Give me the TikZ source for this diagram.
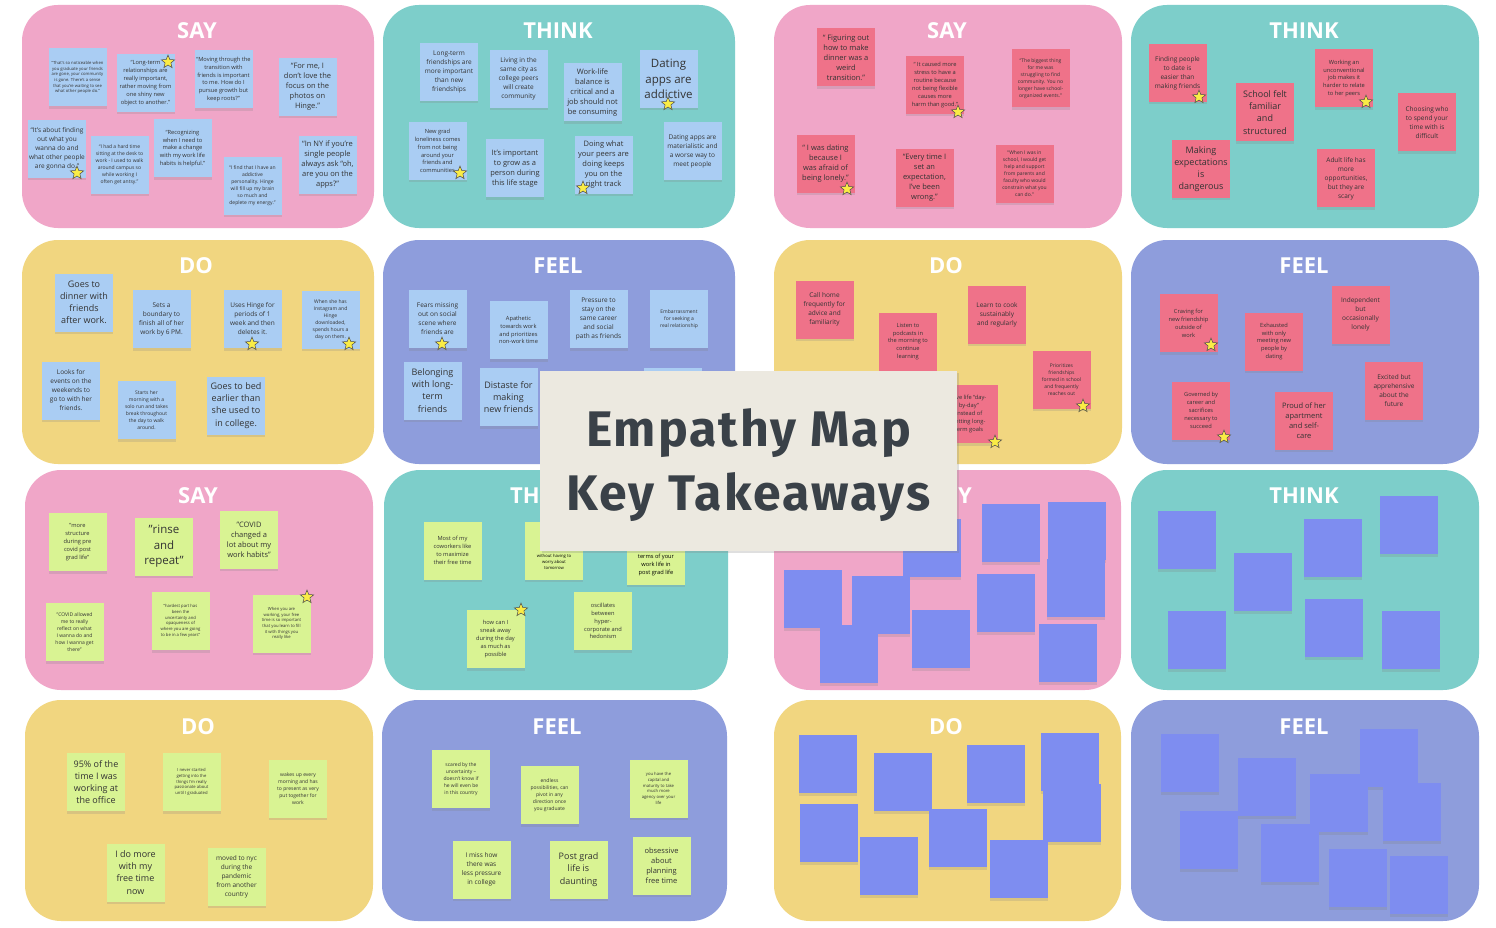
\documentclass[tikz,border=0pt]{standalone}
\usepackage{fontspec}
\setmainfont{Open Sans}
\newfontfamily\cardfont[LetterSpace=4]{Fira Sans}
\usetikzlibrary{positioning, shapes.geometric, shadows}

\definecolor{saypink}{RGB}{240,166,200}
\definecolor{thinkteal}{RGB}{125,206,202}
\definecolor{doyellow}{RGB}{241,214,128}
\definecolor{feelblue}{RGB}{142,157,220}
\definecolor{noteblue}{RGB}{170,205,243}
\definecolor{notered}{RGB}{239,114,137}
\definecolor{notegreen}{RGB}{217,243,147}
\definecolor{noteviolet}{RGB}{126,141,240}
\definecolor{cardbg}{RGB}{236,233,224}
\definecolor{cardtext}{RGB}{58,65,72}
\definecolor{starfill}{RGB}{250,236,70}

\begin{document}
\begin{tikzpicture}[
  x=1pt, y=-1pt,
  panel/.style={rounded corners=36pt},
  title/.style={text=white, font=\fontsize{22}{24}\selectfont\bfseries},
  note/.style={minimum width=58pt, minimum height=58pt, inner sep=1pt, align=center, text=black!80,
    drop shadow={shadow xshift=0pt, shadow yshift=-2.5pt, opacity=0.22}},
  bnote/.style={note, fill=noteblue},
  rnote/.style={note, fill=notered},
  gnote/.style={note, fill=notegreen},
  vnote/.style={note, fill=noteviolet},
  f1/.style={font=\fontsize{4.2}{5.7}\selectfont},
  f2/.style={font=\fontsize{5}{7}\selectfont},
  f3/.style={font=\fontsize{5.7}{7.9}\selectfont},
  f4/.style={font=\fontsize{6.5}{9}\selectfont},
  f5/.style={font=\fontsize{7.5}{10}\selectfont},
  f6/.style={font=\fontsize{9}{12.2}\selectfont},
  f7/.style={font=\fontsize{11.5}{15.5}\selectfont},
  starmark/.style={star, star points=5, star point ratio=2.3, minimum size=14pt, inner sep=0pt,
    fill=starfill, draw=black!70, line width=0.5pt},
  card/.style={fill=cardbg, minimum width=417pt, minimum height=180pt,
    drop shadow={shadow xshift=2pt, shadow yshift=-2pt, opacity=0.25}},
  cardline/.style={text=cardtext, font=\cardfont\fontsize{50}{56}\selectfont\bfseries}
]
  \useasboundingbox (0,0) rectangle (1496,928);
  \fill[white] (0,0) rectangle (1496,928);

  \fill[panel, saypink] (22,5) rectangle (374,228);
  \fill[panel, thinkteal] (383,5) rectangle (735,228);
  \fill[panel, saypink] (774,5) rectangle (1122,228);
  \fill[panel, thinkteal] (1131,5) rectangle (1479,228);
  \fill[panel, doyellow] (22,240) rectangle (374,464);
  \fill[panel, feelblue] (383,240) rectangle (735,464);
  \fill[panel, doyellow] (774,240) rectangle (1122,464);
  \fill[panel, feelblue] (1131,240) rectangle (1479,464);
  \fill[panel, saypink] (25,470) rectangle (373,690);
  \fill[panel, thinkteal] (384,470) rectangle (728,690);
  \fill[panel, saypink] (774,470) rectangle (1121,690);
  \fill[panel, thinkteal] (1131,470) rectangle (1479,690);
  \fill[panel, doyellow] (25,700) rectangle (373,921);
  \fill[panel, feelblue] (382,700) rectangle (727,921);
  \fill[panel, doyellow] (774,700) rectangle (1121,921);
  \fill[panel, feelblue] (1131,700) rectangle (1479,921);

  \node[title] (tsay1) at (197,31) {SAY};
  \node[title] (tthink1) at (558,31) {THINK};
  \node[title] (tsay2) at (947,31) {SAY};
  \node[title] (tthink2) at (1304,31) {THINK};
  \node[title] (tdo1) at (196,266) {DO};
  \node[title] (tfeel1) at (558,266) {FEEL};
  \node[title] (tdo2) at (946,266) {DO};
  \node[title] (tfeel2) at (1304,266) {FEEL};
  \node[title] (tsay3) at (198,496) {SAY};
  \node[title, anchor=east, inner xsep=0pt] (tthink3) at (540,496) {TH};
  \node[title, anchor=west, inner xsep=0pt] (tsay4) at (958,496) {Y};
  \node[title] (tthink4) at (1304,496) {THINK};
  \node[title] (tdo3) at (198,727) {DO};
  \node[title] (tfeel3) at (557,727) {FEEL};
  \node[title] (tdo4) at (946,727) {DO};
  \node[title] (tfeel4) at (1304,727) {FEEL};

  \node[bnote, f1] (say1a) at (77.5,77.5) {“That's so noticeable when\\you graduate your friends\\are gone, your community\\is gone. There's a sense\\that you're waiting to see\\what other people do.”};
  \node[bnote, f3] (say1b) at (145.5,83) {“Long-term\\relationships are\\really important,\\rather moving from\\one shiny new\\object to another.”};
  \node[bnote, f3] (say1c) at (223.5,79.5) {“Moving through the\\transition with\\friends is important\\to me. How do I\\pursue growth but\\keep roots?”};
  \node[bnote, f5] (say1d) at (307.5,87) {“For me, I\\don't love the\\focus on the\\photos on\\Hinge.”};
  \node[bnote, f4] (say1e) at (57,149) {“It's about finding\\out what you\\wanna do and\\what other people\\are gonna do.”};
  \node[bnote, f2] (say1f) at (119.5,165) {“I had a hard time\\sitting at the desk to\\work - I used to walk\\around campus so\\while working I\\often get antsy.”};
  \node[bnote, f3] (say1g) at (182.5,148.5) {“Recognizing\\when I need to\\make a change\\with my work life\\habits is helpful.”};
  \node[bnote, f2] (say1h) at (252.5,186) {“I find that I have an\\addictive\\personality. Hinge\\will fill up my brain\\so much and\\deplete my energy.”};
  \node[bnote, f5] (say1i) at (327.5,165) {“In NY if you're\\single people\\always ask “oh,\\are you on the\\apps?”};

  \node[bnote, f4] (think1a) at (449,72) {Long-term\\friendships are\\more important\\than new\\friendships};
  \node[bnote, f4] (think1b) at (518.5,79) {Living in the\\same city as\\college peers\\will create\\community};
  \node[bnote, f5] (think1c) at (592.5,92.5) {Work-life\\balance is\\critical and a\\job should not\\be consuming};
  \node[bnote, f7] (think1d) at (668.5,79) {Dating\\apps are\\addictive};
  \node[bnote, f3] (think1e) at (437.5,151) {New grad\\loneliness comes\\from not being\\around your\\friends and\\communities};
  \node[bnote, f5] (think1f) at (515,168.5) {It's important\\to grow as a\\person during\\this life stage};
  \node[bnote, f5] (think1g) at (603.5,165) {Doing what\\your peers are\\doing keeps\\you on the\\right track};
  \node[bnote, f4] (think1h) at (692.5,151) {Dating apps are\\materialistic and\\a worse way to\\meet people};

  \node[rnote, f5] (say2a) at (846,57.5) {“ Figuring out\\how to make\\dinner was a\\weird\\transition.”};
  \node[rnote, f3] (say2b) at (935,85) {“ It caused more\\stress to have a\\routine because\\not being flexible\\causes more\\harm than good.”};
  \node[rnote, f2] (say2c) at (1040.5,78.5) {“The biggest thing\\for me was\\struggling to find\\community. You no\\longer have school-\\organized events.”};
  \node[rnote, f5] (say2d) at (825.5,164) {“ I was dating\\because I\\was afraid of\\being lonely.”};
  \node[rnote, f5] (say2e) at (924.5,178) {“Every time I\\set an\\expectation,\\I've been\\wrong.”};
  \node[rnote, f2] (say2f) at (1024.5,174) {“When I was in\\school, I would get\\help and support\\from parents and\\faculty who would\\constrain what you\\can do.”};

  \node[rnote, f4] (think2a) at (1177.5,73) {Finding people\\to date is\\easier than\\making friends};
  \node[rnote, f6] (think2b) at (1265,112.5) {School felt\\familiar\\and\\structured};
  \node[rnote, f3] (think2c) at (1344,78.5) {Working an\\unconventional\\job makes it\\harder to relate\\to her peers};
  \node[rnote, f4] (think2d) at (1427,122.5) {Choosing who\\to spend your\\time with is\\difficult};
  \node[rnote, f6] (think2e) at (1201,169) {Making\\expectations\\is\\dangerous};
  \node[rnote, f4] (think2f) at (1346,178.5) {Adult life has\\more\\opportunities,\\but they are\\scary};

  \node[bnote, f6] (do1a) at (84,302.5) {Goes to\\dinner with\\friends\\after work.};
  \node[bnote, f4] (do1b) at (161.5,319) {Sets a\\boundary to\\finish all of her\\work by 6 PM.};
  \node[bnote, f4] (do1c) at (252.5,319) {Uses Hinge for\\periods of 1\\week and then\\deletes it.};
  \node[bnote, f2] (do1d) at (330.5,319.5) {When she has\\Instagram and\\Hinge\\downloaded,\\spends hours a\\day on them.};
  \node[bnote, f4] (do1e) at (71,390.5) {Looks for\\events on the\\weekends to\\go to with her\\friends.};
  \node[bnote, f2] (do1f) at (146.5,410) {Starts her\\morning with a\\solo run and takes\\break throughout\\the day to walk\\around.};
  \node[bnote, f6] (do1g) at (236,405.5) {Goes to bed\\earlier than\\she used to\\in college.};

  \node[bnote, f4] (feel1a) at (437.5,319) {Fears missing\\out on social\\scene where\\friends are};
  \node[bnote, f3] (feel1b) at (518.5,330) {Apathetic\\towards work\\and prioritizes\\non-work time};
  \node[bnote, f4] (feel1c) at (598.5,319) {Pressure to\\stay on the\\same career\\and social\\path as friends};
  \node[bnote, f2] (feel1d) at (679,319) {Embarrassment\\for seeking a\\real relationship};
  \node[bnote, f6] (feel1e) at (432.5,390.5) {Belonging\\with long-\\term\\friends};
  \node[bnote, f6] (feel1f) at (508.5,397) {Distaste for\\making\\new friends};
  \node[bnote] (feel1g) at (672.5,397) {};

  \node[rnote, f4] (do2a) at (824.5,309.5) {Call home\\frequently for\\advice and\\familiarity};
  \node[rnote, f3] (do2b) at (908,341.5) {Listen to\\podcasts in\\the morning to\\continue\\learning};
  \node[rnote, f4] (do2c) at (997,314.5) {Learn to cook\\sustainably\\and regularly};
  \node[rnote, f2] (do2d) at (1061.5,379.5) {Prioritizes\\friendships\\formed in school\\and frequently\\reaches out};
  \node[rnote, f3] (do2e) at (969,414) {Live life “day-\\by-day”\\instead of\\setting long-\\term goals};

  \node[rnote, f3] (feel2a) at (1188.5,323) {Craving for\\new friendship\\outside of\\work};
  \node[rnote, f3] (feel2b) at (1274,341.5) {Exhausted\\with only\\meeting new\\people by\\dating};
  \node[rnote, f4] (feel2c) at (1360.5,314.5) {Independent\\but\\occasionally\\lonely};
  \node[rnote, f3] (feel2d) at (1201,410.5) {Governed by\\career and\\sacrifices\\necessary to\\succeed};
  \node[rnote, f5] (feel2e) at (1304,420.5) {Proud of her\\apartment\\and self-\\care};
  \node[rnote, f4] (feel2f) at (1394,390.5) {Excited but\\apprehensive\\about the\\future};

  \node[gnote, f3] (say3a) at (77.5,542) {"more\\structure\\during pre\\covid post\\grad life"};
  \node[gnote, f7] (say3b) at (164,546.5) {"rinse\\and\\repeat"};
  \node[gnote, f5] (say3c) at (249,539.5) {"COVID\\changed a\\lot about my\\work habits"};
  \node[gnote, f2] (say3d) at (74.5,632) {"COVID allowed\\me to really\\reflect on what\\I wanna do and\\how I wanna get\\there"};
  \node[gnote, f1] (say3e) at (180.5,621) {"hardest part has\\been the\\uncertainty and\\opaqueness of\\where you are going\\to be in a few years"};
  \node[gnote, f1] (say3f) at (281.5,623.5) {When you are\\working, your free\\time is so important\\that you learn to fill\\it with things you\\really like};

  \node[gnote, f3] (think3a) at (452.5,550.5) {Most of my\\coworkers like\\to maximize\\their free time};
  \node[gnote] (think3b) at (554,550.5) {};
  \node[f1, align=center] (think3bt) at (554,562) {without having to\\worry about\\tomorrow};
  \node[gnote] (think3c) at (656,555.5) {};
  \node[f3, align=center] (think3ct) at (656,565) {terms of your\\work life in\\post grad life};
  \node[gnote, f3] (think3d) at (495.5,639) {how can I\\sneak away\\during the day\\as much as\\possible};
  \node[gnote, f3] (think3e) at (603,621) {oscillates\\between\\hyper-\\corporate and\\hedonism};

  \node[gnote, f6] (do3a) at (96,782) {95\% of the\\time I was\\working at\\the office};
  \node[gnote, f1] (do3b) at (191.5,782) {I never started\\getting into the\\things I'm really\\passionate about\\until I graduated};
  \node[gnote, f2] (do3c) at (298,788.5) {wakes up every\\morning and has\\to present as very\\put together for\\work};
  \node[gnote, f6] (do3d) at (135.5,872.5) {I do more\\with my\\free time\\now};
  \node[gnote, f4] (do3e) at (236.5,876.5) {moved to nyc\\during the\\pandemic\\from another\\country};

  \node[gnote, f2] (feel3a) at (461,779) {scared by the\\uncertainty --\\doesn't know if\\he will even be\\in this country};
  \node[gnote, f2] (feel3b) at (549.5,795) {endless\\possibilities, can\\pivot in any\\direction once\\you graduate};
  \node[gnote, f1] (feel3c) at (658.5,788.5) {you have the\\capital and\\maturity to take\\much more\\agency over your\\life};
  \node[gnote, f4] (feel3d) at (481.5,869.5) {I miss how\\there was\\less pressure\\in college};
  \node[gnote, f6] (feel3e) at (578.5,869.5) {Post grad\\life is\\daunting};
  \node[gnote, f5] (feel3f) at (661.5,865.5) {obsessive\\about\\planning\\free time};

  \foreach \px/\py [count=\i] in {1011/533, 1077/531, 932/548, 813/599, 881/605, 1006/603, 1076/588, 849/654, 941/639, 1068/653}
    \node[vnote] (say4\i) at (\px,\py) {};
  \foreach \px/\py [count=\i] in {1187/540, 1333/548, 1409/525, 1263/582, 1197/640, 1334/628, 1411/640}
    \node[vnote] (think4\i) at (\px,\py) {};
  \foreach \px/\py [count=\i] in {828/764, 903/782, 996/774, 1070/762, 829/833, 958/838, 1072/813, 889/866, 1019/869}
    \node[vnote] (do4\i) at (\px,\py) {};
  \foreach \px/\py [count=\i] in {1190/763, 1267/787, 1389/758, 1339/803, 1412/812, 1209/840, 1290/853, 1358/878, 1419/885}
    \node[vnote] (feel4\i) at (\px,\py) {};

  \foreach \px/\py [count=\i] in {168/62, 77/173, 668/104, 460/173, 583/188, 958/112, 847/189, 1199/97, 1366/102,
      252/344, 349/344, 442/344, 1083/406, 995/442, 1211/345, 1224/437, 307/597, 521/610}
    \node[starmark] (star\i) at (\px,\py) {};

  \node[card] (card) at (748.5,461) {};
  \node[cardline] (cardtop) at (748.5,433) {Empathy Map};
  \node[cardline] (cardbot) at (748.5,497) {Key Takeaways};
\end{tikzpicture}
\end{document}
